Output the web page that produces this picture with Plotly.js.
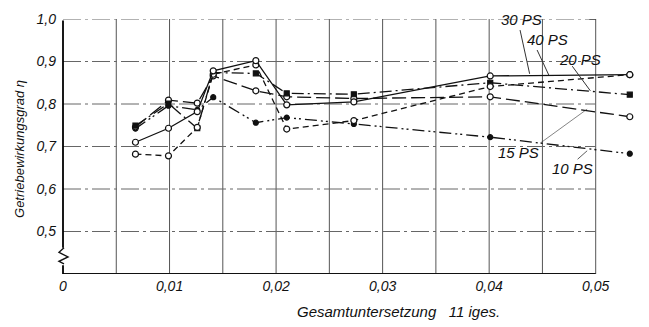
<!DOCTYPE html>
<html>
<head>
<meta charset="utf-8">
<script src="https://cdn.plot.ly/plotly-3.0.1.min.js"></script>
<style>
  html, body { margin: 0; padding: 0; background: #fff; }
  #chart { width: 649px; height: 327px; }
</style>
</head>
<body>
<div id="chart"></div>
<script>
// Overall gear ratio (x) at which efficiency was measured
const gearRatio = [0.0068, 0.0099, 0.0126, 0.0141, 0.0181, 0.0210, 0.0273, 0.0401, 0.0532];

// Transmission efficiency per engine power
const eta10 = [0.742, 0.796, 0.786, 0.816, 0.756, 0.768, 0.753, 0.722, 0.683];
const eta15 = [0.746, 0.809, 0.802, 0.866, 0.831, 0.817, 0.813, 0.817, 0.770];
const eta20 = [0.749, 0.801, 0.743, 0.874, 0.872, 0.825, 0.823, 0.850, 0.822];
const eta30 = [0.710, 0.743, 0.782, 0.878, 0.902, 0.798, 0.805, 0.866, 0.869];
const eta40 = [0.682, 0.678, 0.745, 0.870, 0.892, 0.741, 0.761, 0.841, 0.869];

const seriesNames = ['10 PS', '15 PS', '20 PS', '30 PS', '40 PS'];

// Axis ticks
const xTickVals = [0, 0.01, 0.02, 0.03, 0.04, 0.05];
const xTickText = ['0', '0,01', '0,02', '0,03', '0,04', '0,05'];
const yTickVals = [0.5, 0.6, 0.7, 0.8, 0.9, 1.0];
const yTickText = ['0,5', '0,6', '0,7', '0,8', '0,9', '1,0'];

// Grid positions
const gridX = [0.005, 0.01, 0.015, 0.02, 0.025, 0.03, 0.035, 0.04, 0.045, 0.05];
const gridY = [0.5, 0.6, 0.7, 0.8, 0.9, 1.0];

const ink = '#111';
const FONT = 'Liberation Sans, Arial, sans-serif';
const Y_MIN = 0.4, Y_MAX = 1.0;
const X_MAX = 0.05444;

function trace(y, name, dash, symbol, hollow) {
  return {
    x: gearRatio, y: y, name: name, type: 'scatter', mode: 'lines+markers',
    line: { color: ink, width: 1.3, dash: dash },
    marker: {
      symbol: symbol, size: hollow ? 6 : 5, color: hollow ? '#fff' : ink,
      line: { color: ink, width: 1.2 }
    },
    cliponaxis: false
  };
}

const data = [
  trace(eta10, seriesNames[0], '12px,4px,2px,3px,2px,4px', 'circle', false),
  trace(eta15, seriesNames[1], '14px,5px', 'circle', true),
  trace(eta20, seriesNames[2], '12px,4px,2px,4px', 'square', false),
  trace(eta40, seriesNames[4], '6px,4px', 'circle', true),
  trace(eta30, seriesNames[3], 'solid', 'circle', true)
];

const shapes = [];
// vertical grid lines
gridX.forEach(v => shapes.push({
  type: 'line', xref: 'x', yref: 'y', x0: v, x1: v, y0: Y_MIN, y1: Y_MAX,
  line: { color: '#555', width: 1 }, layer: 'below'
}));
// horizontal grid lines (dash-dot)
gridY.forEach(v => shapes.push({
  type: 'line', xref: 'x', yref: 'y', x0: 0, x1: 0.05, y0: v, y1: v,
  line: { color: '#666', width: 1, dash: '18px,4px,3px,4px' }, layer: 'below'
}));
// bottom axis line
shapes.push({ type: 'line', xref: 'x', yref: 'y', x0: 0, x1: 0.05, y0: Y_MIN, y1: Y_MIN,
  line: { color: ink, width: 2 } });

// break mark (zigzag) on the left axis
const px = 1 / 580;
const py = v => (v - Y_MIN) / (Y_MAX - Y_MIN);
shapes.push({ type: 'path', xref: 'paper', yref: 'paper',
  path: 'M ' + (1 * px) + ',' + py(0.462) +
        ' L ' + (-4 * px) + ',' + py(0.451) + ' L ' + (5 * px) + ',' + py(0.440) +
        ' L ' + (-4 * px) + ',' + py(0.430) + ' L ' + (1 * px) + ',' + py(0.424),
  line: { color: ink, width: 1.4 } });
// small bracket at top of the 0.05 line
shapes.push({ type: 'line', xref: 'x', yref: 'y', x0: 0.0494, x1: 0.05, y0: Y_MAX, y1: Y_MAX,
  line: { color: ink, width: 1 } });

// leader lines from labels to curves
const leaders = [
  [0.0429, 0.974, 0.0438, 0.871, 1],
  [0.0445, 0.927, 0.0456, 0.868, 1],
  [0.0478, 0.889, 0.0495, 0.831, 1],
  [0.0448, 0.708, 0.0492, 0.788, 0.6],
  [0.0483, 0.670, 0.0492, 0.690, 0.8]
];
leaders.forEach(l => shapes.push({
  type: 'line', xref: 'x', yref: 'y', x0: l[0], y0: l[1], x1: l[2], y1: l[3],
  line: { color: '#333', width: l[4] }
}));

const labelFont = { family: FONT, size: 15, color: ink, style: 'italic' };
const labelPos = [
  [0.0478, 0.649], // 10 PS
  [0.0428, 0.685], // 15 PS
  [0.0485, 0.905], // 20 PS
  [0.0430, 0.999], // 30 PS
  [0.0455, 0.951]  // 40 PS
];
const annotations = seriesNames.map((n, i) => ({
  x: labelPos[i][0], y: labelPos[i][1], xref: 'x', yref: 'y', text: n,
  showarrow: false, font: labelFont, xanchor: 'center', yanchor: 'middle'
}));

// left axis drawn as headless annotation arrows (upper part and stub below the break)
const axisSegments = [[0.462, Y_MAX], [Y_MIN, 0.424]];
axisSegments.forEach(s => annotations.push({
  x: 0, y: s[0], xref: 'x', yref: 'y',
  ax: 0, ay: s[1], axref: 'x', ayref: 'y',
  text: '', showarrow: true, arrowhead: 0, arrowwidth: 1.8, arrowcolor: '#000',
  standoff: 0, startstandoff: 0
}));

annotations.push({
  x: 0.578, y: -0.147, xref: 'paper', yref: 'paper',
  text: 'Gesamtuntersetzung   11 iges.', showarrow: false,
  font: { family: FONT, size: 15, color: ink, style: 'italic' },
  xanchor: 'center', yanchor: 'middle'
});
annotations.push({
  x: -0.076, y: 0.49, xref: 'paper', yref: 'paper',
  text: 'Getriebewirkungsgrad η', showarrow: false, textangle: -90,
  font: { family: FONT, size: 13, color: ink, style: 'italic' },
  xanchor: 'center', yanchor: 'middle'
});

const layout = {
  width: 649, height: 327,
  margin: { l: 63, r: 6, t: 19, b: 53 },
  paper_bgcolor: '#fff', plot_bgcolor: '#fff',
  showlegend: false,
  font: { family: FONT, color: ink },
  xaxis: {
    range: [0, X_MAX], tickvals: xTickVals, ticktext: xTickText,
    showgrid: false, zeroline: false, showline: false, ticks: '',
    tickfont: { family: FONT, size: 14, color: ink, style: 'italic' },
    ticklabelstandoff: 2
  },
  yaxis: {
    range: [Y_MIN, Y_MAX], tickvals: yTickVals, ticktext: yTickText,
    showgrid: false, zeroline: false, showline: false, ticks: '',
    tickfont: { family: FONT, size: 14, color: ink, style: 'italic' },
    ticklabelstandoff: 6
  },
  shapes: shapes,
  annotations: annotations
};

Plotly.newPlot('chart', data, layout, { displayModeBar: false, staticPlot: true });
</script>
</body>
</html>
